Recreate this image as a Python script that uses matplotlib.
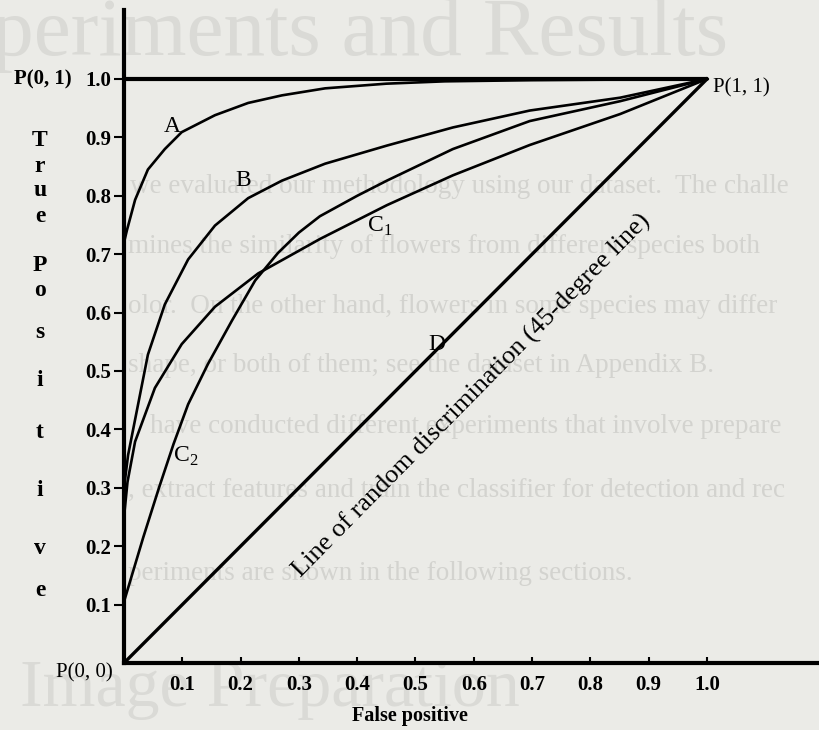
import matplotlib
matplotlib.use("Agg")
import matplotlib.pyplot as plt

plt.rcParams['font.family'] = ['Liberation Serif', 'DejaVu Serif']
plt.rcParams['mathtext.fontset'] = 'custom'
plt.rcParams['mathtext.rm'] = 'Liberation Serif'

# values
ticks = [0.1, 0.2, 0.3, 0.4, 0.5, 0.6, 0.7, 0.8, 0.9, 1.0]
tick_labels = ['0.1', '0.2', '0.3', '0.4', '0.5', '0.6', '0.7', '0.8', '0.9', '1.0']

fpr_a = [0, 0.005, 0.019, 0.041, 0.070, 0.099, 0.156, 0.213, 0.271, 0.345, 0.45, 0.55, 0.70, 0.85, 1.0]
tpr_a = [0.72, 0.741, 0.793, 0.845, 0.880, 0.909, 0.938, 0.959, 0.972, 0.984, 0.992, 0.996, 0.998, 0.999, 1.0]

fpr_b = [0, 0.007, 0.024, 0.041, 0.070, 0.110, 0.156, 0.213, 0.271, 0.345, 0.451, 0.564, 0.696, 0.851, 1.0]
tpr_b = [0.30, 0.356, 0.442, 0.528, 0.614, 0.691, 0.749, 0.796, 0.826, 0.855, 0.886, 0.917, 0.946, 0.968, 1.0]

fpr_c1 = [0, 0.006, 0.019, 0.053, 0.099, 0.156, 0.230, 0.293, 0.336, 0.451, 0.564, 0.696, 0.851, 1.0]
tpr_c1 = [0.25, 0.31, 0.379, 0.471, 0.546, 0.610, 0.667, 0.702, 0.726, 0.784, 0.835, 0.887, 0.940, 1.0]

fpr_c2 = [0, 0.033, 0.060, 0.085, 0.110, 0.144, 0.185, 0.225, 0.264, 0.30, 0.336, 0.40, 0.451, 0.564, 0.696, 0.851, 1.0]
tpr_c2 = [0.105, 0.215, 0.30, 0.375, 0.443, 0.512, 0.586, 0.655, 0.702, 0.737, 0.765, 0.80, 0.826, 0.880, 0.928, 0.962, 1.0]

fpr_d = [0, 1.0]
tpr_d = [0, 1.0]

perfect_x = [0, 1.0]
perfect_y = [1.0, 1.0]

ylabel_letters = ['T', 'r', 'u', 'e', 'P', 'o', 's', 'i', 't', 'i', 'v', 'e']
ylabel_rows = [140, 166, 190, 217, 266, 291, 332, 381, 433, 490, 548, 590]

ghost_lines = [
    "we evaluated our methodology using our dataset.  The challe",
    "mines the similarity of flowers from different species both",
    "olor.  On the other hand, flowers in some species may differ",
    "shape, or both of them; see the dataset in Appendix B.",
    "have conducted different experiments that involve prepare",
    ", extract features and train the classifier for detection and rec",
    "periments are shown in the following sections.",
]
ghost_x = [130, 128, 128, 128, 150, 128, 128]
ghost_y = [193, 253, 313, 372, 433, 497, 580]

W, H = 820, 730
bg = '#ebebe7'
fig = plt.figure(figsize=(W / 100, H / 100), dpi=100, facecolor=bg)


def fx(px):
    return px / W


def fy(py):
    return 1 - py / H


# faint show-through from the facing page
fig.text(fx(-8), fy(55), "periments and Results", fontsize=60, color='#dadad6', zorder=-5)
fig.text(fx(20), fy(706), "Image Preparation", fontsize=49, color='#dadad6', zorder=-5)
for line, gx, gy in zip(ghost_lines, ghost_x, ghost_y):
    fig.text(fx(gx), fy(gy), line, fontsize=19.5, color='#d3d3cf', zorder=-5)

ax = fig.add_axes([fx(124), 1 - 663 / H, (W - 124) / W, (663 - 10) / H])
ax.patch.set_visible(False)
ax.set_xlim(0, (W - 124) / 583)
ax.set_ylim(0, 653 / 584)

lw = 1.9
ax.plot(perfect_x, perfect_y, color='black', lw=3.0, solid_capstyle='butt')
ax.plot(fpr_a, tpr_a, color='black', lw=lw)
ax.plot(fpr_b, tpr_b, color='black', lw=lw)
ax.plot(fpr_c1, tpr_c1, color='black', lw=lw)
ax.plot(fpr_c2, tpr_c2, color='black', lw=lw)
ax.plot(fpr_d, tpr_d, color='black', lw=2.4)

for side in ['top', 'right']:
    ax.spines[side].set_visible(False)
for side in ['left', 'bottom']:
    ax.spines[side].set_linewidth(3.0)

ax.set_xticks(ticks)
ax.set_xticklabels(tick_labels)
ax.set_yticks(ticks)
ax.set_yticklabels(tick_labels)
ax.tick_params(axis='x', direction='in', length=4, width=1.5, pad=9, labelsize=15)
ax.tick_params(axis='y', direction='out', length=7, width=1.5, pad=2, labelsize=15)
for lab in ax.get_xticklabels() + ax.get_yticklabels():
    lab.set_fontweight('bold')

lab_kw = dict(fontsize=17, ha='center', va='center')
ax.text(0.082, 0.918, 'A', **lab_kw)
ax.text(0.204, 0.827, 'B', **lab_kw)
ax.text(0.439, 0.748, 'C$_1$', **lab_kw)
ax.text(0.105, 0.353, 'C$_2$', **lab_kw)
ax.text(0.537, 0.545, 'D', **lab_kw)
ax.text(0.597, 0.458, 'Line of random discrimination (45-degree line)',
        fontsize=19, rotation=45.5, rotation_mode='anchor', ha='center', va='center')

ax.text(1.01, 0.985, 'P(1, 1)', fontsize=15, ha='left', va='center')
ax.text(-0.089, 1.0, 'P(0, 1)', fontsize=15, fontweight='bold', ha='right', va='center', clip_on=False)
ax.text(-0.02, -0.017, 'P(0, 0)', fontsize=15, ha='right', va='center', clip_on=False)

for letter, row in zip(ylabel_letters, ylabel_rows):
    fig.text(fx(40), fy(row), letter, fontsize=17, fontweight='bold', ha='center', va='center')

fig.text(fx(410), fy(716), 'False positive', fontsize=14.5, fontweight='bold', ha='center', va='center')

fig.savefig('out.png', dpi=100, facecolor=bg)
